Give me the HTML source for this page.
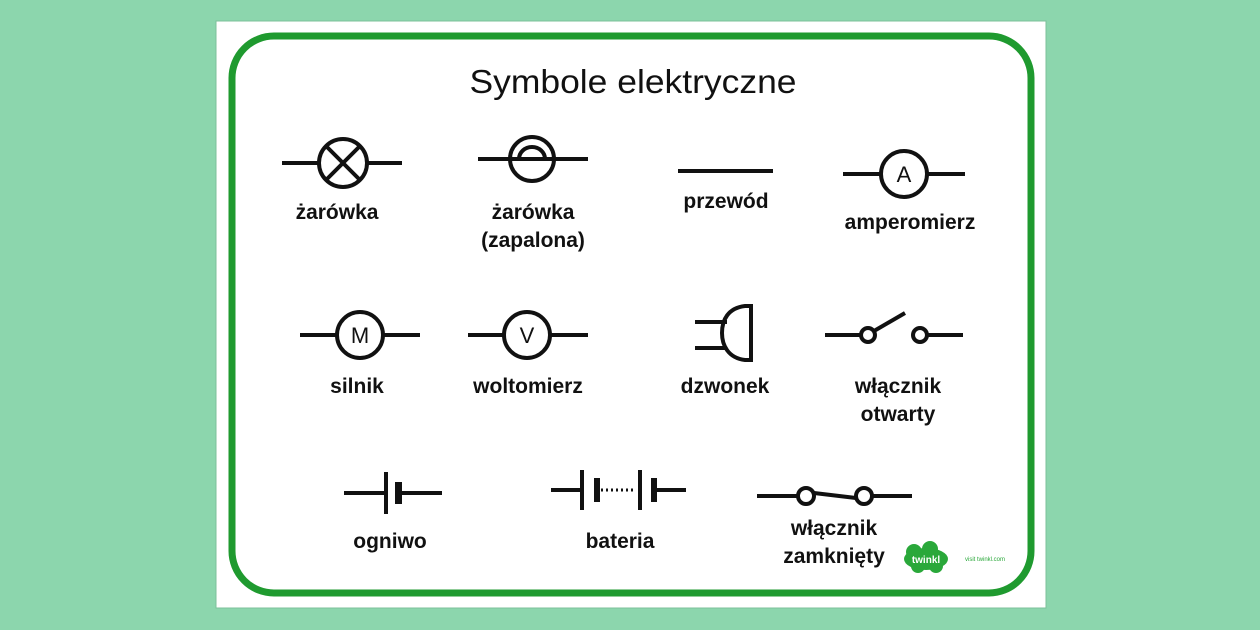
<!DOCTYPE html>
<html><head><meta charset="utf-8"><style>
html,body{margin:0;padding:0;background:#8cd6ad;}
svg{display:block}
text{font-family:"Liberation Sans","DejaVu Sans",sans-serif;fill:#111;text-anchor:middle}
.l{font-size:21px;font-weight:bold}
</style></head><body>
<svg width="1260" height="630" viewBox="0 0 1260 630" xmlns="http://www.w3.org/2000/svg">
<rect x="0" y="0" width="1260" height="630" fill="#8cd6ad"/>
<rect x="216" y="21" width="830" height="587" fill="#fff" stroke="#7cc09a" stroke-width="1"/>
<rect x="232" y="36" width="799" height="557" rx="42" fill="#fff" stroke="#1f9a2f" stroke-width="7"/>
<text x="633" y="93" font-size="33" textLength="327" lengthAdjust="spacingAndGlyphs">Symbole elektryczne</text>
<g stroke="#111" stroke-width="4" fill="none" stroke-linecap="butt">
<!-- zarowka -->
<line x1="282" y1="163" x2="319" y2="163"/><line x1="367" y1="163" x2="402" y2="163"/>
<circle cx="343" cy="163" r="24"/>
<line x1="326" y1="146" x2="360" y2="180"/><line x1="360" y1="146" x2="326" y2="180"/>
<!-- zapalona -->
<line x1="478" y1="159" x2="588" y2="159"/>
<circle cx="532" cy="159" r="22" fill="none"/>
<path d="M519 159 A13 12 0 0 1 545 159"/>
<!-- przewod -->
<line x1="678" y1="171" x2="773" y2="171"/>
<!-- amperomierz -->
<line x1="843" y1="174" x2="881" y2="174"/><line x1="927" y1="174" x2="965" y2="174"/>
<circle cx="904" cy="174" r="23"/>
<!-- silnik -->
<line x1="300" y1="335" x2="337" y2="335"/><line x1="383" y1="335" x2="420" y2="335"/>
<circle cx="360" cy="335" r="23"/>
<!-- woltomierz -->
<line x1="468" y1="335" x2="504" y2="335"/><line x1="550" y1="335" x2="588" y2="335"/>
<circle cx="527" cy="335" r="23"/>
<!-- dzwonek -->
<line x1="695" y1="322" x2="727" y2="322"/><line x1="695" y1="348" x2="727" y2="348"/>
<path d="M751 306 L751 360 L745 360 C728 358 722 345 722 333 C722 320 728 308 745 306 Z"/>
<!-- otwarty -->
<line x1="825" y1="335" x2="861" y2="335"/>
<circle cx="868" cy="335" r="7"/>
<line x1="874" y1="331" x2="905" y2="313"/>
<circle cx="920" cy="335" r="7"/>
<line x1="927" y1="335" x2="963" y2="335"/>
<!-- ogniwo -->
<line x1="344" y1="493" x2="386" y2="493"/>
<line x1="386" y1="472" x2="386" y2="514"/>
<line x1="398" y1="493" x2="442" y2="493"/>
<!-- bateria -->
<line x1="551" y1="490" x2="582" y2="490"/>
<line x1="582" y1="470" x2="582" y2="510"/>
<line x1="640" y1="470" x2="640" y2="510"/>
<line x1="654" y1="490" x2="686" y2="490"/>
<line x1="601" y1="490" x2="634" y2="490" stroke-width="3" stroke-dasharray="2 3"/>
<!-- zamkniety -->
<line x1="757" y1="496" x2="798" y2="496"/>
<circle cx="806" cy="496" r="8"/>
<path d="M814 493 L856 498"/>
<circle cx="864" cy="496" r="8"/>
<line x1="872" y1="496" x2="912" y2="496"/>
</g>
<g fill="#111">
<rect x="395" y="482" width="7" height="22"/>
<rect x="594" y="478" width="6" height="24"/>
<rect x="651" y="478" width="6" height="24"/>
</g>
<text x="904" y="182" font-size="22">A</text>
<text x="360" y="343" font-size="22">M</text>
<text x="527" y="343" font-size="22">V</text>
<text class="l" x="337" y="219">żarówka</text>
<text class="l" x="533" y="219">żarówka</text>
<text class="l" x="533" y="247">(zapalona)</text>
<text class="l" x="726" y="208">przewód</text>
<text class="l" x="910" y="229">amperomierz</text>
<text class="l" x="357" y="393">silnik</text>
<text class="l" x="528" y="393">woltomierz</text>
<text class="l" x="725" y="393">dzwonek</text>
<text class="l" x="898" y="393">włącznik</text>
<text class="l" x="898" y="421">otwarty</text>
<text class="l" x="390" y="548">ogniwo</text>
<text class="l" x="620" y="548">bateria</text>
<text class="l" x="834" y="535">włącznik</text>
<text class="l" x="834" y="563">zamknięty</text>
<g fill="#2aa83a">
<ellipse cx="926" cy="559" rx="22" ry="11"/>
<circle cx="914" cy="552" r="8"/><circle cx="930" cy="549" r="8"/><circle cx="918" cy="566" r="7"/><circle cx="936" cy="566" r="7"/>
</g>
<text x="926" y="563" font-size="10" font-weight="bold" style="fill:#fff">twinkl</text>
<text x="985" y="561" font-size="6" style="fill:#2aa83a">visit twinkl.com</text>
</svg>
</body></html>
